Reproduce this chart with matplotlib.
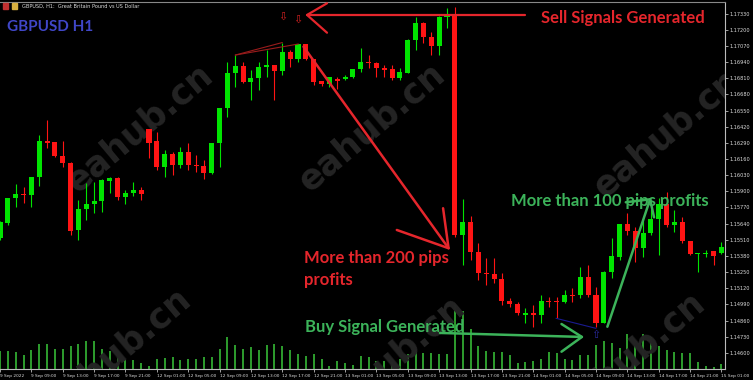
import numpy as np
import matplotlib
matplotlib.use('Agg')
import matplotlib.pyplot as plt
from matplotlib.patches import Rectangle

# GBPUSD H1 candles, 9 Sep 05:00 -> 15 Sep 01:00
opens = [1.15524, 1.15648, 1.15844, 1.15876, 1.15870, 1.16013, 1.16307, 1.16294, 1.16184, 1.16130,
         1.15586, 1.15755, 1.15798, 1.15825, 1.15986, 1.16010, 1.15857, 1.15889, 1.15911, 1.16399,
         1.16305, 1.16098, 1.16198, 1.16109, 1.16214, 1.16112, 1.16106, 1.16045, 1.16291, 1.16568,
         1.16850, 1.16911, 1.16777, 1.16815, 1.16898, 1.16917, 1.16871, 1.17024, 1.16965, 1.17086,
         1.16965, 1.16788, 1.16764, 1.16804, 1.16802, 1.16818, 1.16885, 1.16943, 1.16935, 1.16890,
         1.16882, 1.16810, 1.16855, 1.17118, 1.17257, 1.17140, 1.17072, 1.17303, 1.17319, 1.15548,
         1.15656, 1.15414, 1.15245, 1.15234, 1.15192, 1.15020, 1.14993, 1.14907, 1.14918, 1.14907,
         1.15017, 1.15017, 1.15007, 1.15065, 1.15065, 1.15208, 1.15065, 1.14843, 1.15253, 1.15369,
         1.15637, 1.15583, 1.15446, 1.15562, 1.15675, 1.15796, 1.15629, 1.15651, 1.15500, 1.15393,
         1.15393, 1.15420, 1.15401]
highs = [1.15660, 1.15846, 1.15960, 1.15938, 1.16016, 1.16353, 1.16474, 1.16299, 1.16307, 1.16134,
         1.15830, 1.15965, 1.15978, 1.15997, 1.16016, 1.16016, 1.15911, 1.15978, 1.15938, 1.16405,
         1.16380, 1.16232, 1.16218, 1.16259, 1.16286, 1.16192, 1.16152, 1.16290, 1.16572, 1.16943,
         1.16997, 1.16943, 1.16877, 1.16943, 1.17038, 1.16920, 1.17097, 1.17038, 1.17090, 1.17090,
         1.16968, 1.16790, 1.16820, 1.16818, 1.16836, 1.16888, 1.17051, 1.16997, 1.16943, 1.16917,
         1.16917, 1.16890, 1.17125, 1.17306, 1.17262, 1.17185, 1.17310, 1.17373, 1.17386, 1.15836,
         1.15702, 1.15481, 1.15361, 1.15361, 1.15240, 1.15039, 1.15012, 1.14958, 1.14985, 1.15065,
         1.15052, 1.15052, 1.15106, 1.15119, 1.15293, 1.15307, 1.15132, 1.15256, 1.15522, 1.15637,
         1.15723, 1.15616, 1.15669, 1.15755, 1.15844, 1.15898, 1.15750, 1.15696, 1.15503, 1.15404,
         1.15428, 1.15423, 1.15494]
lows = [1.15508, 1.15629, 1.15776, 1.15804, 1.15776, 1.15944, 1.16246, 1.16180, 1.16098, 1.15548,
        1.15508, 1.15669, 1.15723, 1.15736, 1.15884, 1.15830, 1.15798, 1.15862, 1.15830, 1.16166,
        1.16072, 1.16018, 1.16032, 1.16085, 1.16072, 1.16058, 1.15997, 1.16040, 1.16098, 1.16501,
        1.16742, 1.16769, 1.16635, 1.16716, 1.16823, 1.16635, 1.16836, 1.16903, 1.16943, 1.16957,
        1.16756, 1.16748, 1.16742, 1.16721, 1.16796, 1.16810, 1.16863, 1.16890, 1.16818, 1.16818,
        1.16796, 1.16796, 1.16852, 1.17038, 1.17092, 1.16997, 1.16997, 1.17215, 1.15535, 1.15307,
        1.15347, 1.15186, 1.15146, 1.15160, 1.14985, 1.14971, 1.14904, 1.14843, 1.14810, 1.14838,
        1.14968, 1.14878, 1.14999, 1.15012, 1.15039, 1.15052, 1.14810, 1.14838, 1.15200, 1.15347,
        1.15548, 1.15333, 1.15374, 1.15548, 1.15387, 1.15616, 1.15575, 1.15481, 1.15387, 1.15253,
        1.15369, 1.15307, 1.15398]
closes = [1.15656, 1.15844, 1.15876, 1.15870, 1.16013, 1.16307, 1.16291, 1.16184, 1.16130, 1.15581,
          1.15755, 1.15798, 1.15825, 1.15992, 1.16010, 1.15852, 1.15884, 1.15914, 1.15881, 1.16291,
          1.16098, 1.16198, 1.16109, 1.16214, 1.16109, 1.16104, 1.16045, 1.16286, 1.16568, 1.16850,
          1.16911, 1.16782, 1.16815, 1.16898, 1.16917, 1.16871, 1.17024, 1.16965, 1.17086, 1.16965,
          1.16782, 1.16764, 1.16818, 1.16790, 1.16823, 1.16885, 1.16943, 1.16935, 1.16890, 1.16877,
          1.16815, 1.16861, 1.17118, 1.17253, 1.17140, 1.17072, 1.17306, 1.17319, 1.15548, 1.15656,
          1.15414, 1.15245, 1.15234, 1.15192, 1.15020, 1.14993, 1.14918, 1.14918, 1.14907, 1.15017,
          1.15007, 1.15007, 1.15065, 1.15057, 1.15208, 1.15065, 1.14843, 1.15253, 1.15379, 1.15634,
          1.15583, 1.15446, 1.15562, 1.15675, 1.15796, 1.15629, 1.15651, 1.15500, 1.15393, 1.15401,
          1.15401, 1.15379, 1.15449]
volumes = [1800, 1770, 1670, 1430, 1930, 2530, 2530, 2030, 2030, 2330,
           2530, 2830, 2830, 2030, 1830, 1100, 930, 870, 600, 270,
           1000, 1100, 1200, 930, 1000, 1000, 1200, 1200, 2000, 3200,
           2430, 2000, 2200, 1930, 2430, 2470, 2330, 1870, 1530, 1330,
           1470, 1000, 330, 800, 600, 430, 1330, 1200, 770, 770,
           670, 1000, 1530, 1930, 1600, 1600, 1530, 1530, 6400, 5800,
           4000, 2270, 1770, 1670, 1670, 1430, 600, 670, 770, 1000,
           1670, 1600, 1000, 870, 1430, 1430, 2430, 2770, 2600, 2100,
           3500, 2270, 3500, 3200, 2270, 1930, 1670, 1600, 1600, 670,
           270, 200, 530]

time_labels = ['9 Sep 2022', '9 Sep 09:00', '9 Sep 13:00', '9 Sep 17:00', '9 Sep 21:00',
               '12 Sep 01:00', '12 Sep 05:00', '12 Sep 09:00', '12 Sep 13:00', '12 Sep 17:00',
               '12 Sep 21:00', '13 Sep 01:00', '13 Sep 05:00', '13 Sep 09:00', '13 Sep 13:00',
               '13 Sep 17:00', '13 Sep 21:00', '14 Sep 01:00', '14 Sep 05:00', '14 Sep 09:00',
               '14 Sep 13:00', '14 Sep 17:00', '14 Sep 21:00', '15 Sep 01:00']
price_ticks = [1.14600, 1.14730, 1.14860, 1.14990, 1.15120, 1.15250, 1.15380, 1.15510,
               1.15640, 1.15770, 1.15900, 1.16030, 1.16160, 1.16290, 1.16420, 1.16550,
               1.16680, 1.16810, 1.16940, 1.17070, 1.17200, 1.17330]

# hand drawn objects on the chart, (bar, price)
sell_line = [(39.15, 1.17320), (66.97, 1.17320)]
sell_head = [(41.7, 1.17414), (39.15, 1.17320), (41.7, 1.17177)]
sell_marks = [(36.0, 1.17303), (38.0, 1.17283)]
wedge_a = [(30.0, 1.16997), (36.0, 1.17098)]
wedge_b = [(30.0, 1.16997), (38.05, 1.17086)]
drop_line = [(38.7, 1.17065), (57.2, 1.15442)]
drop_head = [(56.5, 1.15764), (57.2, 1.15442), (50.6, 1.15589)]
buy_line = [(56.1, 1.14760), (74.2, 1.14728)]
buy_head = [(71.6, 1.14832), (74.2, 1.14728), (71.6, 1.14609)]
blue_line = [(70.9, 1.14878), (76.0, 1.14797)]
buy_mark = (76.0, 1.14743)
rise_line = [(77.45, 1.14810), (82.9, 1.15836)]
rise_head = [(79.8, 1.15812), (82.9, 1.15836), (83.4, 1.15691)]

RED = '#ff1414'
GREEN = '#00e400'
TXT_RED = '#e5262c'
TXT_GREEN = '#3cb35a'


def draw_path(ax, pts, color, lw):
    xs = [p[0] for p in pts]
    ys = [p[1] for p in pts]
    ax.plot(xs, ys, color=color, lw=lw, solid_capstyle='round', zorder=6)


def main():
    fig = plt.figure(figsize=(7.53, 3.80), dpi=100, facecolor='black')
    ax = fig.add_axes([0, 11 / 380, 725 / 753, 367 / 380])
    ax2 = ax.twinx()
    ax2.set_zorder(0)
    ax.set_zorder(1)
    ax.patch.set_visible(False)
    ax2.set_facecolor('black')

    x = np.arange(len(opens))
    o = np.array(opens)
    c = np.array(closes)
    up = c >= o
    colors = np.where(up, GREEN, RED)

    # volumes along the bottom
    ax2.vlines(x, 0, volumes, colors='#35b835', lw=1.2)
    ax2.set_ylim(0, max(volumes) * 5.7)
    ax2.set_yticks([])
    for s in ax2.spines.values():
        s.set_visible(False)

    # candles
    ax.vlines(x, lows, highs, colors=colors, lw=0.8, zorder=3)
    body = np.maximum(np.abs(c - o), 0.00006)
    ax.bar(x, body, bottom=np.minimum(o, c), width=0.64, color=colors, lw=0, zorder=4)

    ax.set_xlim(0.09, 92.45)
    ax.set_ylim(1.144698, 1.174242)
    ax.yaxis.tick_right()
    ax.set_yticks(price_ticks)
    ax.set_yticklabels(['%.5f' % t for t in price_ticks])
    ax.set_xticks(range(0, len(opens), 4))
    ax.set_xticklabels(time_labels)
    ax.tick_params(colors='#bbbbbb', labelcolor='#dddddd', labelsize=3.6,
                   length=2, width=0.6, pad=1.5)
    for lbl in ax.get_xticklabels():
        lbl.set_ha('left')
        lbl.set_fontsize(3.1)
    for name, s in ax.spines.items():
        s.set_color('#bbbbbb')
        s.set_linewidth(0.8)
    ax.spines['left'].set_visible(False)
    ax.spines['top'].set_color('#888888')

    # watermark
    for wx, wy in [(140, 128), (372, 127), (667, 133), (118, 352), (392, 360), (632, 356)]:
        ax.text(wx / 753, 1 - wy / 380, 'eahub.cn', transform=fig.transFigure,
                rotation=40, fontsize=25, color='#242424', ha='center', va='center',
                family='DejaVu Sans', fontweight='bold', zorder=1, clip_on=True)

    # overlays
    draw_path(ax, sell_line, TXT_RED, 1.6)
    draw_path(ax, sell_head, TXT_RED, 1.6)
    draw_path(ax, wedge_a, '#9a1c1c', 0.8)
    draw_path(ax, wedge_b, '#9a1c1c', 0.8)
    draw_path(ax, drop_line, TXT_RED, 1.8)
    draw_path(ax, drop_head, TXT_RED, 1.8)
    draw_path(ax, buy_line, TXT_GREEN, 1.8)
    draw_path(ax, buy_head, TXT_GREEN, 1.8)
    draw_path(ax, blue_line, '#1a1a90', 0.8)
    draw_path(ax, rise_line, TXT_GREEN, 1.8)
    draw_path(ax, rise_head, TXT_GREEN, 1.8)
    for mx, my in sell_marks:
        ax.text(mx, my, '\u21e9', color='#d02020', fontsize=8, ha='center', va='center',
                family='DejaVu Sans', zorder=7)
    ax.text(buy_mark[0], buy_mark[1], '\u21e7', color='#2a2aa0', fontsize=8,
            ha='center', va='center', family='DejaVu Sans', zorder=7)

    font = dict(family='Lato', fontweight='bold', fontsize=12, zorder=8)
    ax.text(69.0, 1.17295, 'Sell Signals Generated', color=TXT_RED, va='center', **font)
    ax.text(38.8, 1.15425, 'More than 200 pips\nprofits', color=TXT_RED, va='top',
            linespacing=1.45, **font)
    ax.text(65.2, 1.15822, 'More than 100 pips profits', color=TXT_GREEN, va='center', **font)
    ax.text(38.9, 1.14808, 'Buy Signal Generated', color=TXT_GREEN, va='center', **font)

    # header
    fig.text(7 / 753, 1 - 27 / 380, 'GBPUSD H1', color='#4047c8', family='Lato',
             fontweight='bold', fontsize=11, va='center')
    fig.text(22 / 753, 1 - 6 / 380, 'GBPUSD, H1:  Great Britain Pound vs US Dollar',
             color='#dddddd', fontsize=3.6, va='center')
    fig.patches.append(Rectangle((3 / 753, 1 - 9 / 380), 5 / 753, 6 / 380, color='#c03030',
                                 transform=fig.transFigure))
    fig.patches.append(Rectangle((12 / 753, 1 - 9 / 380), 5 / 753, 6 / 380, color='#d8b040',
                                 transform=fig.transFigure))

    fig.savefig('out.png', dpi=100, facecolor='black')


main()
